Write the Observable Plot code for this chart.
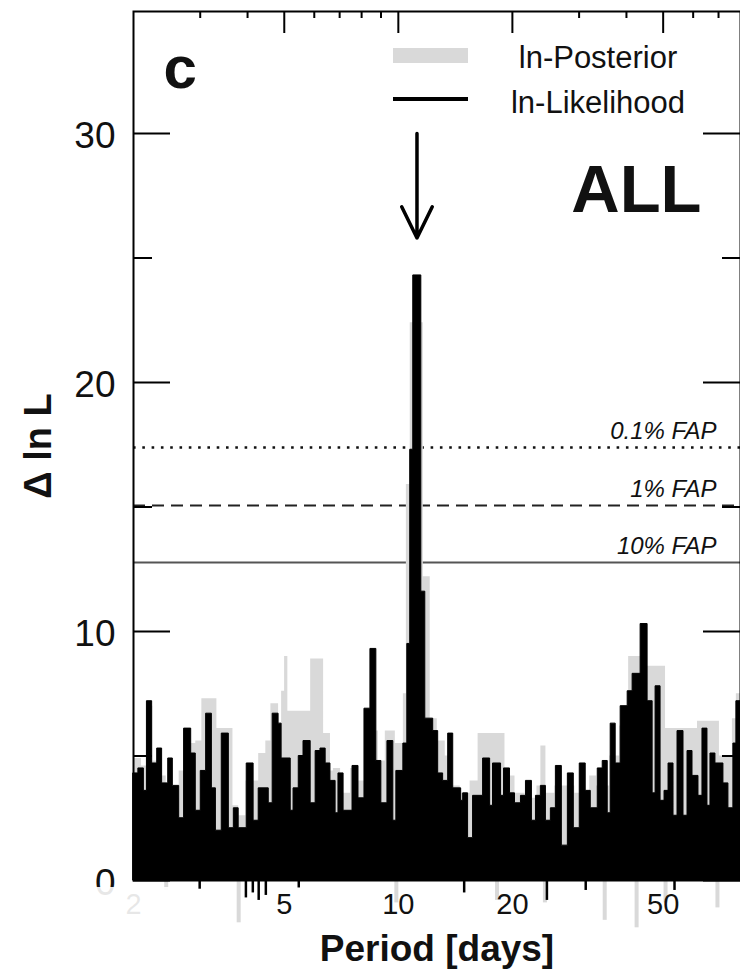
<!DOCTYPE html>
<html>
<head>
<meta charset="utf-8">
<script src="https://cdn.jsdelivr.net/npm/d3@7"></script>
<script src="https://cdn.jsdelivr.net/npm/@observablehq/plot@0.6"></script>
<style>
html, body { margin: 0; padding: 0; background: #fff; overflow: hidden; }
#wrap { position: relative; width: 740px; height: 979px; font-family: "Liberation Sans", Arial, Helvetica, sans-serif; }
#wrap svg { display: block; }
.sw { position: absolute; }
.legtxt { position: absolute; font-size: 31px; color: #111; transform: translate(-50%, -50%); white-space: nowrap; line-height: 1; }
#fade { position: absolute; left: 0; top: 887px; width: 180px; height: 50px; background: rgba(255,255,255,0.9); }
</style>
</head>
<body>
<div id="wrap"></div>
<script>
// ---- ln-Likelihood (black) upper envelope, step-after: period [days], Δ ln L
const likePeriod = [2.0, 2.06, 2.13, 2.17, 2.24, 2.31, 2.38, 2.47, 2.54, 2.64, 2.72, 2.84, 2.92, 3.01, 3.11, 3.22, 3.30, 3.42, 3.57, 3.68, 3.79, 3.98, 4.15, 4.28, 4.55, 4.66, 4.83, 4.92, 5.20, 5.29, 5.46, 5.62, 5.87, 6.05, 6.23, 6.43, 6.62, 6.83, 6.95, 7.17, 7.57, 7.85, 8.14, 8.44, 8.75, 9.02, 9.36, 9.70, 9.88, 10.31, 10.56, 10.75, 10.95, 11.50, 11.78, 12.36, 12.74, 13.13, 13.54, 13.96, 14.65, 14.83, 15.28, 15.75, 16.74, 17.47, 17.78, 18.67, 19.01, 19.71, 20.32, 21.07, 21.72, 22.52, 23.08, 23.78, 24.52, 25.27, 26.05, 27.01, 28.02, 29.05, 30.12, 31.23, 32.20, 33.60, 34.63, 35.70, 36.35, 37.47, 38.62, 40.30, 41.53, 43.60, 45.49, 46.90, 47.75, 49.22, 50.42, 51.66, 53.25, 54.56, 56.58, 57.98, 59.76, 61.97, 63.49, 65.45, 66.65, 68.70, 72.12, 74.34, 76.61, 78.02, 80.0];
const likeValue  = [4.3, 4.5, 3.6, 7.2, 4.7, 5.3, 3.9, 4.9, 3.8, 2.5, 6.1, 5.1, 2.8, 4.4, 6.7, 3.7, 2.0, 5.9, 2.1, 2.9, 2.1, 4.7, 2.4, 3.7, 3.1, 6.7, 6.3, 4.9, 2.8, 3.7, 5.0, 5.6, 3.1, 5.2, 5.3, 4.7, 4.0, 2.7, 4.3, 2.8, 4.6, 3.3, 6.9, 9.3, 4.8, 3.1, 5.6, 2.4, 4.4, 5.5, 9.5, 17.3, 24.3, 11.6, 6.5, 6.0, 4.3, 4.0, 5.9, 3.7, 3.2, 3.5, 1.7, 3.4, 4.9, 3.0, 4.7, 3.4, 4.5, 3.5, 3.1, 3.4, 4.0, 2.4, 3.4, 3.8, 2.4, 2.9, 4.6, 1.4, 4.3, 2.1, 4.7, 3.6, 2.9, 4.5, 4.8, 2.7, 6.3, 4.7, 7.0, 7.6, 8.3, 10.3, 7.2, 3.5, 7.8, 3.2, 3.6, 4.7, 2.6, 6.0, 2.6, 5.2, 4.2, 3.4, 6.1, 3.0, 5.1, 4.7, 3.9, 2.9, 5.5, 7.2, 7.2];

// ---- ln-Posterior (grey) upper envelope, step-after
const postPeriod = [2.0, 2.10, 2.17, 2.25, 2.36, 2.44, 2.54, 2.64, 2.75, 2.92, 3.03, 3.32, 3.66, 3.79, 3.96, 4.28, 4.47, 4.61, 4.83, 4.92, 5.01, 5.11, 5.87, 6.35, 6.62, 6.74, 7.04, 7.48, 7.85, 8.19, 8.86, 9.24, 9.82, 10.31, 10.50, 10.75, 11.64, 12.14, 12.67, 13.30, 13.88, 14.57, 15.47, 16.24, 19.12, 20.32, 21.59, 23.22, 23.78, 24.52, 25.89, 29.23, 32.00, 33.39, 36.13, 38.39, 40.54, 45.22, 50.73, 54.23, 61.60, 70.39, 76.16, 78.02, 80.0];
const postValue  = [4.9, 4.6, 7.0, 4.8, 4.2, 3.5, 3.3, 4.4, 5.5, 5.6, 7.3, 6.1, 3.0, 2.6, 4.0, 5.1, 5.6, 7.1, 6.3, 7.6, 9.0, 6.8, 8.9, 5.9, 4.4, 4.5, 3.5, 4.5, 4.0, 6.0, 4.8, 6.0, 5.5, 7.5, 15.9, 22.4, 12.2, 6.5, 5.6, 5.0, 3.8, 3.5, 4.0, 5.9, 4.2, 3.5, 3.3, 3.8, 5.4, 3.5, 3.8, 3.5, 4.2, 3.8, 5.0, 6.2, 9.0, 8.6, 6.1, 6.1, 6.4, 5.0, 6.5, 7.5, 7.5];

// ---- dips below zero
const likeDipPeriod = [2.99, 3.96, 4.13, 4.28, 4.47, 5.46, 14.92, 24.67, 31.23, 53.57];
const likeDipValue  = [-0.35, -0.7, -0.5, -0.8, -0.6, -0.3, -0.5, -0.8, -0.4, -0.4];
const postDipPeriod = [2.44, 3.79, 9.88, 18.22, 24.37, 35.05, 42.55, 50.73, 69.54];
const postDipValue  = [-0.4, -1.7, -0.9, -0.8, -0.9, -1.6, -1.9, -0.9, -1.1];

// ---- false-alarm thresholds
const fapLevels = [17.39, 15.06, 12.77];
const fapLabels = ["0.1% FAP", "1% FAP", "10% FAP"];

// ---- peak marker
const peakPeriod = 11.2;
const arrowFrom = 30;
const arrowTo = 25.8;

// ---- ticks
const yMajorTicks = [0, 10, 20, 30];
const yMinorTicks = [5, 15, 25];
const yTickLabels = [0, 10, 20, 30];
const xMajorTicks = [5, 10, 20, 50];
const xMinorTicks = [3, 4, 6, 7, 8, 9, 30, 40, 60, 70];
const xTickLabels = [2, 5, 10, 20, 50];

// ---- texts
const legendLabels = ["ln-Posterior", "ln-Likelihood"];
const panelLetter = "c";
const panelName = "ALL";
const xTitle = "Period [days]";
const yTitle = "Δ ln L";

const like = likePeriod.map((p, i) => ({period: p, value: likeValue[i]}));
const post = postPeriod.map((p, i) => ({period: p, value: postValue[i]}));
const likeDips = likeDipPeriod.map((p, i) => ({period: p, value: likeDipValue[i]}));
const postDips = postDipPeriod.map((p, i) => ({period: p, value: postDipValue[i]}));
const faps = fapLevels.map((v, i) => ({level: v, label: fapLabels[i]}));
const arrowData = [{period: peakPeriod, from: arrowFrom, to: arrowTo}];

const FONT = "Liberation Sans, Arial, Helvetica, sans-serif";
const GREY = "#d9d9d9";

const chart = Plot.plot({
  width: 740,
  height: 979,
  marginLeft: 133,
  marginRight: 0,
  marginTop: 11,
  marginBottom: 99,
  style: {fontFamily: FONT, background: "white", overflow: "visible", color: "black"},
  x: {type: "log", domain: [2, 80], axis: null},
  y: {domain: [0, 34.9], axis: null},
  marks: [
    // FAP thresholds
    Plot.ruleY(faps.slice(0, 1), {y: "level", stroke: "#111", strokeWidth: 2.6, strokeDasharray: "2.6,6.7"}),
    Plot.ruleY(faps.slice(1, 2), {y: "level", stroke: "#222", strokeWidth: 2, strokeDasharray: "12,7"}),
    Plot.ruleY(faps.slice(2, 3), {y: "level", stroke: "#555", strokeWidth: 2}),
    // posterior
    Plot.areaY(post, {x: "period", y1: 0, y2: "value", curve: "step-after", fill: GREY}),
    Plot.ruleX(postDips, {x: "period", y1: 0, y2: "value", stroke: GREY, strokeWidth: 4}),
    // likelihood
    Plot.areaY(like, {x: "period", y1: 0, y2: "value", curve: "step-after", fill: "black", stroke: "black", strokeWidth: 1}),
    Plot.ruleX(likeDips, {x: "period", y1: 0, y2: "value", stroke: "black", strokeWidth: 2.5}),
    // ticks, inward
    Plot.tickY(yMajorTicks, {y: d => d, insetRight: 570, stroke: "black", strokeWidth: 2}),
    Plot.tickY(yMinorTicks, {y: d => d, insetRight: 588, stroke: "black", strokeWidth: 2}),
    Plot.tickY(yMajorTicks, {y: d => d, insetLeft: 570, stroke: "black", strokeWidth: 2}),
    Plot.tickY(yMinorTicks, {y: d => d, insetLeft: 589, stroke: "black", strokeWidth: 2}),
    Plot.tickX(xMajorTicks, {x: d => d, insetBottom: 847, stroke: "black", strokeWidth: 2}),
    Plot.tickX(xMinorTicks, {x: d => d, insetBottom: 862, stroke: "black", strokeWidth: 2}),
    Plot.frame({stroke: "black", strokeWidth: 2}),
    // tick labels
    Plot.text(yTickLabels, {y: d => d, text: d => `${d}`, frameAnchor: "left", dx: -18, dy: 3, textAnchor: "end", fontSize: 37, fill: "#111"}),
    Plot.text(xTickLabels, {x: d => d, text: d => `${d}`, frameAnchor: "bottom", dy: 33, fontSize: 29, fill: "#111"}),
    // axis titles
    Plot.text([yTitle], {text: d => d, frameAnchor: "left", dx: -95, rotate: -90, textAnchor: "middle", lineAnchor: "middle", fontSize: 38, fontWeight: "bold", fill: "#111"}),
    Plot.text([xTitle], {text: d => d, frameAnchor: "bottom", dy: 80, textAnchor: "middle", fontSize: 37, fontWeight: "bold", fill: "#111"}),
    // FAP labels
    Plot.text(faps, {y: "level", text: "label", frameAnchor: "right", dx: -24, dy: -16, textAnchor: "end", fontSize: 24, fontStyle: "italic", fill: "#111"}),
    // panel labels
    Plot.text([panelLetter], {text: d => d, frameAnchor: "top-left", dx: 30, dy: 34, lineAnchor: "top", textAnchor: "start", fontSize: 60, fontWeight: "bold", fill: "#111"}),
    Plot.text([panelName], {text: d => d, frameAnchor: "top-right", dx: -39, dy: 153, lineAnchor: "top", textAnchor: "end", fontSize: 67, fontWeight: "bold", fill: "#111"}),
    // arrow marking the peak
    Plot.arrow(arrowData, {x1: "period", x2: "period", y1: "from", y2: "to", stroke: "black", strokeWidth: 3.5, headLength: 15, headAngle: 52})
  ]
});

const wrap = document.getElementById("wrap");
wrap.appendChild(chart);

// faded strip under the lower-left corner (as in the reference)
const fade = document.createElement("div");
fade.id = "fade";
wrap.appendChild(fade);

// legend inside the panel
const sw1 = document.createElement("div");
sw1.className = "sw";
Object.assign(sw1.style, {left: "393px", top: "48px", width: "75px", height: "15px", background: GREY});
wrap.appendChild(sw1);
const sw2 = document.createElement("div");
sw2.className = "sw";
Object.assign(sw2.style, {left: "393px", top: "97px", width: "75px", height: "4px", background: "#000"});
wrap.appendChild(sw2);
[57, 102].forEach((top, i) => {
  const t = document.createElement("div");
  t.className = "legtxt";
  t.textContent = legendLabels[i];
  Object.assign(t.style, {left: "598px", top: top + "px"});
  wrap.appendChild(t);
});
</script>
</body>
</html>
